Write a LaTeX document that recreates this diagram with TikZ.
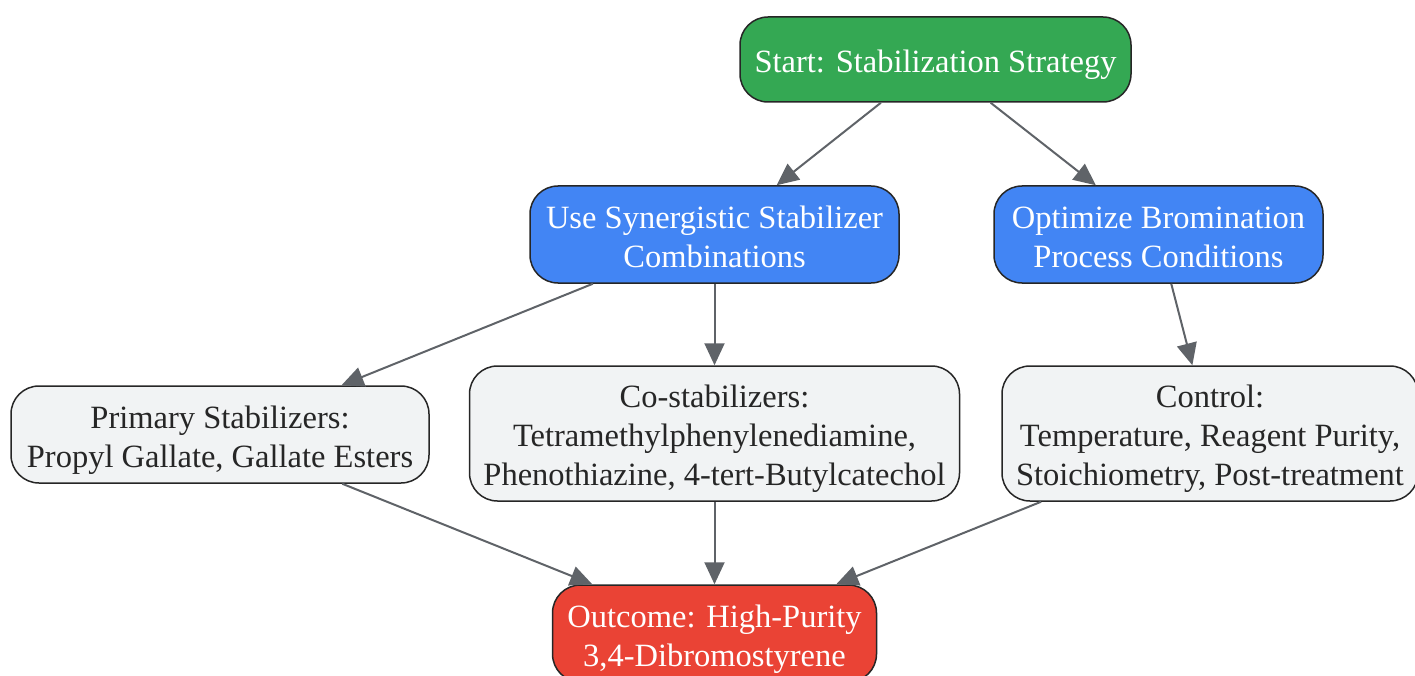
\documentclass[tikz,border=0pt]{standalone}
\usepackage{fontspec}
\setmainfont{Liberation Serif}
\usepackage{tikz}
\usetikzlibrary{arrows.meta}

\definecolor{startgreen}{HTML}{34A853}
\definecolor{stepblue}{HTML}{4285F4}
\definecolor{itemgrey}{HTML}{F1F3F4}
\definecolor{outred}{HTML}{EA4335}
\definecolor{linkgrey}{HTML}{5F6368}

\begin{document}
\begin{tikzpicture}[x=1pt,y=-1pt,
    box/.style={draw=black!85, line width=1.5pt, rounded corners=28pt,
        align=center, inner sep=0pt, font=\fontsize{32.5}{39}\selectfont,
        execute at begin node={\rule{0pt}{\dimexpr34pt+39pt*(#1-1)\relax}},
        execute at end node={\rule[-8pt]{0pt}{8pt}}},
    startbox/.style={box=#1, fill=startgreen, text=white},
    stepbox/.style={box=#1, fill=stepblue, text=white},
    itembox/.style={box=#1, fill=itemgrey, text=black!85},
    outbox/.style={box=#1, fill=outred, text=white},
    link/.style={draw=linkgrey, line width=2pt, -{Triangle[length=22pt,width=20pt]}}]
        \useasboundingbox (0,0) rectangle (1415,676);
        \node[startbox=1, minimum width=391pt, minimum height=85pt] (start) at (935.5,59.5) {Start: Stabilization Strategy};
        \node[stepbox=2, minimum width=369pt, minimum height=97pt] (syn) at (714.5,234.5) {Use Synergistic Stabilizer\\Combinations};
        \node[stepbox=2, minimum width=329pt, minimum height=97pt] (opt) at (1158.5,234.5) {Optimize Bromination\\Process Conditions};
        \node[itembox=2, minimum width=418pt, minimum height=97pt] (prim) at (220,434.5) {Primary Stabilizers:\\Propyl Gallate, Gallate Esters};
        \node[itembox=3, minimum width=490pt, minimum height=135pt] (co) at (714.5,433.5) {Co-stabilizers:\\Tetramethylphenylenediamine,\\Phenothiazine, 4-tert-Butylcatechol};
        \node[itembox=3, minimum width=416pt, minimum height=135pt] (ctrl) at (1210,433.5) {Control:\\Temperature, Reagent Purity,\\Stoichiometry, Post-treatment};
        \node[outbox=2, minimum width=324pt, minimum height=97pt] (out) at (714.5,633.5) {Outcome: High-Purity\\3,4-Dibromostyrene};
        % connectors
        \draw[link] (start) -- (syn);
        \draw[link] (start) -- (opt);
        \draw[link] (syn) -- (prim);
        \draw[link] (syn) -- (co);
        \draw[link] (opt) -- (ctrl);
        \draw[link] (prim) -- (out);
        \draw[link] (co) -- (out);
        \draw[link] (ctrl) -- (out);
        \end{tikzpicture}
\end{document}
